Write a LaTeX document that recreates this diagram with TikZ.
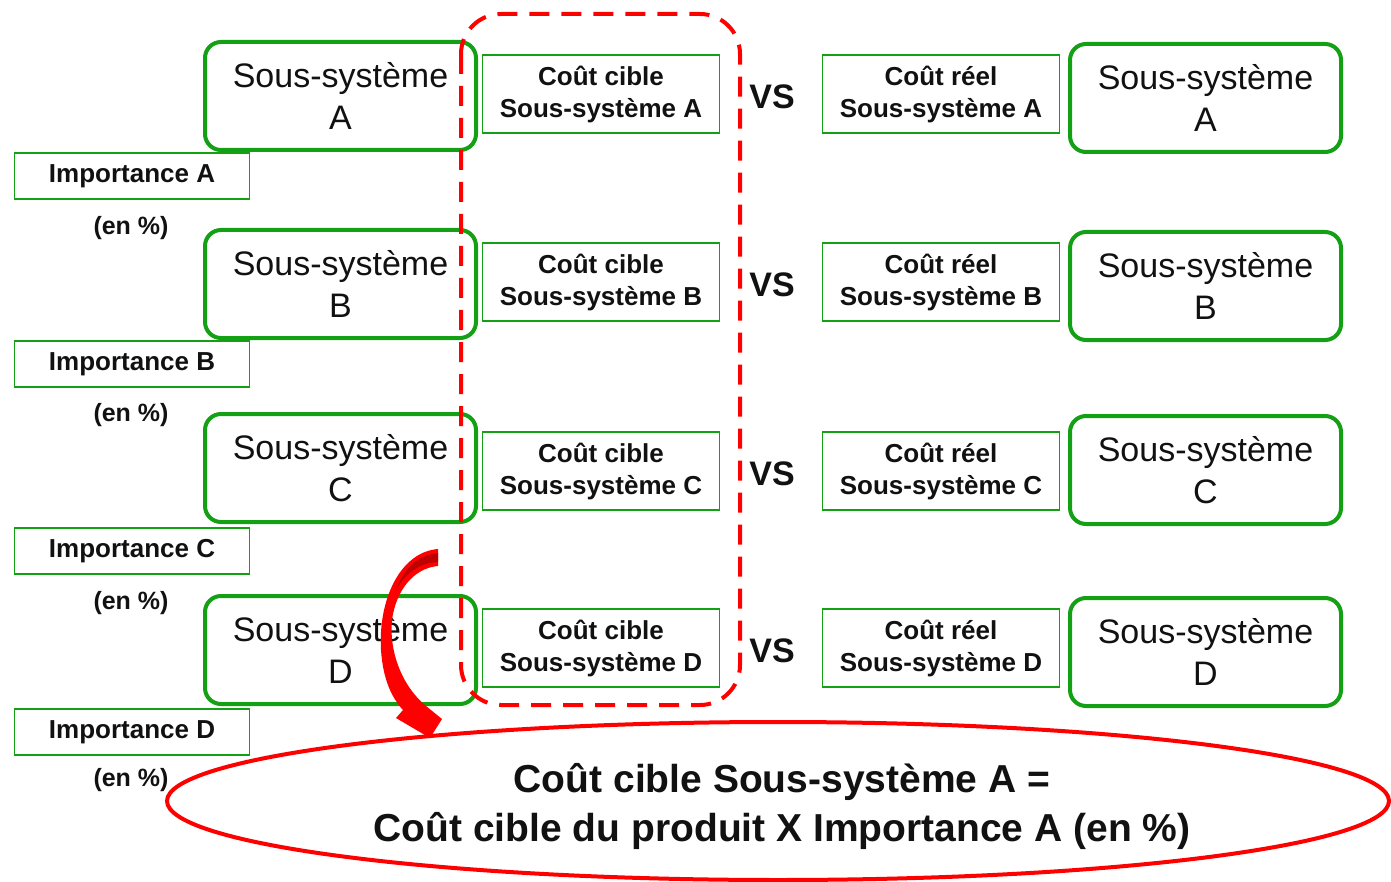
\documentclass[tikz,border=0pt]{standalone}
\usepackage{fontspec}
\setmainfont{Liberation Sans}
\usetikzlibrary{shapes.geometric}
\definecolor{vert}{RGB}{20,160,20}
\definecolor{rouge}{RGB}{255,0,0}
\definecolor{encre}{RGB}{17,17,17}

\begin{document}
\begin{tikzpicture}[x=1pt,y=-1pt,text=encre]
    \tikzset{
      sysbox/.style={draw=vert, line width=4pt, rounded corners=16pt, minimum width=271pt, minimum height=108pt, inner sep=0pt, align=center, font=\fontsize{34}{42}\selectfont},
      costbox/.style={draw=vert, line width=1.6pt, minimum width=237pt, minimum height=78pt, inner sep=0pt, align=center, font=\bfseries\fontsize{26}{32}\selectfont},
      impbox/.style={draw=vert, line width=1.6pt, minimum width=235pt, minimum height=46pt, inner sep=0pt, font=\bfseries\fontsize{26}{31}\selectfont},
      pct/.style={font=\bfseries\fontsize{25}{30}\selectfont},
      vs/.style={font=\bfseries\fontsize{34}{40}\selectfont}
    }
    \clip (0,0) rectangle (1391,882);
    \foreach \n/\yg/\yr/\yc/\yi/\ye in {A/96/98/94/176/228,B/284/286/282/364/415,C/468/470/471/551/603,D/650/652/648/732/780} {
      \node[sysbox] (sg\n) at (340.5,\yg) {Sous-système\\\n};
      \node[costbox] (cc\n) at (601,\yc) {Coût cible\\Sous-système \n};
      \node[vs] (vs\n) at (772,\yc+3) {VS};
      \node[costbox] (cr\n) at (941,\yc) {Coût réel\\Sous-système \n};
      \node[sysbox] (sd\n) at (1205.5,\yr) {Sous-système\\\n};
      \node[impbox] (imp\n) at (132,\yi) {Importance \n};
      \node[pct] (pct\n) at (131,\ye) {(en \%)};
    }
    % cadre des couts cibles
    \draw[rouge, line width=4pt, dash pattern=on 20pt off 12pt, rounded corners=40pt] (461,14) rectangle (740,705);
    \node[ellipse, draw=rouge, line width=4pt, minimum width=1222pt, minimum height=158pt] (formule) at (778,801) {};
    \node[align=center, font=\bfseries\fontsize{39}{49}\selectfont] (formuletxt) at (782,806) {Coût cible Sous-système A =\\Coût cible du produit X Importance A (en \%)};
    % fleche courbe
    \fill[rouge] (438,549) .. controls (400,552) and (378,600) .. (381,650)
      .. controls (383,680) and (392,698) .. (403,710) -- (396,718) -- (430,738) -- (442,719) -- (426,706)
      .. controls (402,686) and (389,652) .. (392,620)
      .. controls (396,590) and (414,568) .. (438,566) -- cycle;
    \fill[rouge!75!black] (438,553) .. controls (418,555) and (404,568) .. (396,590)
      .. controls (406,572) and (420,563) .. (438,562) -- cycle;
\end{tikzpicture}
\end{document}
